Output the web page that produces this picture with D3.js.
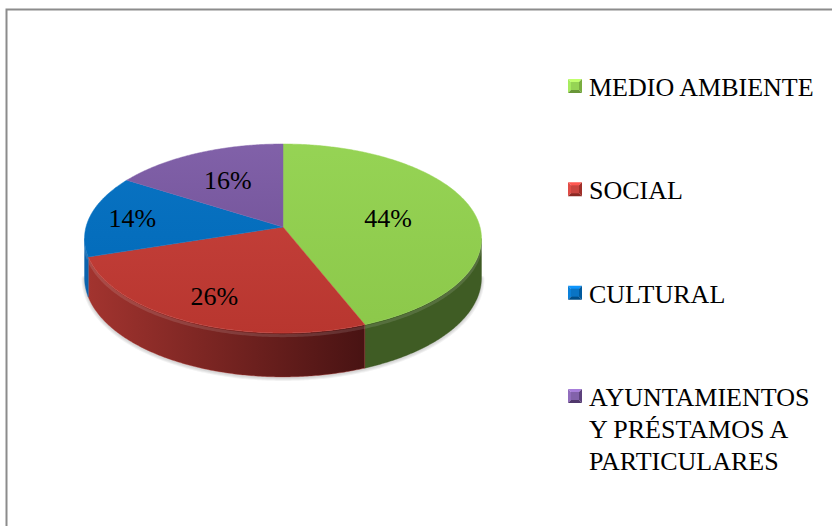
<!DOCTYPE html>
<html>
<head>
<meta charset="utf-8">
<script src="https://cdn.jsdelivr.net/npm/d3@7/dist/d3.min.js"></script>
</head>
<body style="margin:0;background:#ffffff">
<svg id="chart" width="832" height="526" font-family="Liberation Serif" style="display:block;font-family:'Liberation Serif',serif"></svg>
<script>
// ---------- data ----------
const categories = ["MEDIO AMBIENTE", "SOCIAL", "CULTURAL", "AYUNTAMIENTOS Y PRÉSTAMOS A PARTICULARES"];
const values = [44, 26, 14, 16];
const valueLabels = ["44%", "26%", "14%", "16%"];
const legendLines = [["MEDIO AMBIENTE"], ["SOCIAL"], ["CULTURAL"], ["AYUNTAMIENTOS", "Y PRÉSTAMOS A", "PARTICULARES"]];

// ---------- styles ----------
const topLight = ["#96d455", "#c9443f", "#0a74c4", "#8262aa"];
const topDark  = ["#8cc84a", "#b8362f", "#0068b6", "#6a4b8f"];
const wallLight = ["#3a5620", "#a3342f", "#0b63ad", "#5c3f80"];
const wallDark  = ["#3f5c24", "#461212", "#0a4f8c", "#4a3268"];
const FS = 26;

// ---------- layout ----------
const W = 832, H = 526;
const cx = 283, cy = 227;
const R = 197;
const A = 93.1;
const k = 0.1217;
const depth = 38.6;
const labelRadius = [0.55, 0.75, 0.78, 0.62];

const svg = d3.select("#chart");
const defs = svg.append("defs");

svg.append("path")
  .attr("d", `M6.5,${H} L6.5,9.5 L${W},9.5`)
  .attr("fill", "none").attr("stroke", "#8c8c8c").attr("stroke-width", 2);

function proj(x, y, z) {
  const s = 1 / (1 - k * y);
  return [cx + R * x * s, cy + A * y * s + z * depth * s];
}
function angPt(a, r, z) { return proj(r * Math.sin(a), -r * Math.cos(a), z); }
function arcPts(a0, a1, z, r = 1) {
  const n = Math.max(2, Math.ceil(Math.abs(a1 - a0) / 0.01));
  return d3.range(n + 1).map(i => angPt(a0 + (a1 - a0) * i / n, r, z));
}
const line = d3.line().curve(d3.curveLinear);

const arcs = d3.pie().sort(null).value(d => d)(values);
const visA0 = Math.acos(-k), visA1 = 2 * Math.PI - Math.acos(-k);

// soft shadow under pie
{
  const pts = arcPts(visA0, visA1, 1);
  [6, 4, 2].forEach(w => {
    svg.append("path").attr("d", line(pts.map(p => [p[0], p[1] + 1])))
      .attr("fill", "none").attr("stroke", "#000").attr("stroke-opacity", 0.05)
      .attr("stroke-width", w).attr("stroke-linecap", "round");
  });
}

arcs.forEach((d, i) => {
  const gw = defs.append("linearGradient").attr("id", "wall" + i)
    .attr("gradientUnits", "userSpaceOnUse")
    .attr("x1", cx - R).attr("y1", 0).attr("x2", cx + R * 0.45).attr("y2", 0);
  gw.append("stop").attr("offset", 0).attr("stop-color", wallLight[i]);
  gw.append("stop").attr("offset", 1).attr("stop-color", wallDark[i]);
  const gt = defs.append("linearGradient").attr("id", "top" + i)
    .attr("gradientUnits", "userSpaceOnUse")
    .attr("x1", 0).attr("y1", cy - A).attr("x2", 0).attr("y2", cy + A * 1.15);
  gt.append("stop").attr("offset", 0).attr("stop-color", topLight[i]);
  gt.append("stop").attr("offset", 1).attr("stop-color", topDark[i]);
});

const wallG = svg.append("g");
arcs.forEach((d, i) => {
  const a0 = Math.max(d.startAngle, visA0), a1 = Math.min(d.endAngle, visA1);
  if (a1 <= a0) return;
  const pts = arcPts(a0, a1, 0).concat(arcPts(a1, a0, 1));
  wallG.append("path").attr("d", line(pts) + "Z")
    .attr("fill", `url(#wall${i})`).attr("stroke", wallLight[i]).attr("stroke-width", 0.4);
  wallG.append("path").attr("d", line(arcPts(a0, a1, 0.06)))
    .attr("fill", "none").attr("stroke", "#ffffff").attr("stroke-opacity", 0.12).attr("stroke-width", 3);
});

const topG = svg.append("g");
arcs.forEach((d, i) => {
  const pts = [proj(0, 0, 0)].concat(arcPts(d.startAngle, d.endAngle, 0));
  topG.append("path").attr("d", line(pts) + "Z")
    .attr("fill", `url(#top${i})`).attr("stroke", topLight[i]).attr("stroke-width", 0.5);
});

// value labels
arcs.forEach((d, i) => {
  const m = (d.startAngle + d.endAngle) / 2;
  const p = angPt(m, labelRadius[i], 0);
  svg.append("text").attr("x", p[0]).attr("y", p[1] + 9)
    .attr("text-anchor", "middle").attr("font-size", FS).attr("fill", "#000")
    .text(valueLabels[i]);
});

// legend
const ly = d3.scalePoint().domain(categories).range([96, 406]);
const legendX = 568, ms = 14;
categories.forEach((c, i) => {
  const g = svg.append("g").attr("transform", `translate(${legendX},${ly(c)})`);
  const x0 = 0, y0 = -17, x1 = ms, y1 = -17 + ms, mx = ms / 2, my = -17 + ms / 2;
  const tri = [
    [[x0, y0], [x1, y0], [mx, my], d3.color(topLight[i]).brighter(0.7)],
    [[x0, y0], [x0, y1], [mx, my], d3.color(topLight[i]).brighter(0.3)],
    [[x1, y0], [x1, y1], [mx, my], d3.color(topDark[i]).darker(0.4)],
    [[x0, y1], [x1, y1], [mx, my], d3.color(topDark[i]).darker(0.8)]
  ];
  tri.forEach(t => g.append("path").attr("d", line([t[0], t[1], t[2]]) + "Z").attr("fill", t[3]));
  g.append("rect").attr("x", 3).attr("y", y0 + 3).attr("width", ms - 6).attr("height", ms - 6).attr("fill", topLight[i]);
  legendLines[i].forEach((t, j) => {
    g.append("text").attr("x", 21).attr("y", j * 32)
      .attr("font-size", FS).attr("fill", "#000")
      .text(t);
  });
});
</script>
</body>
</html>
